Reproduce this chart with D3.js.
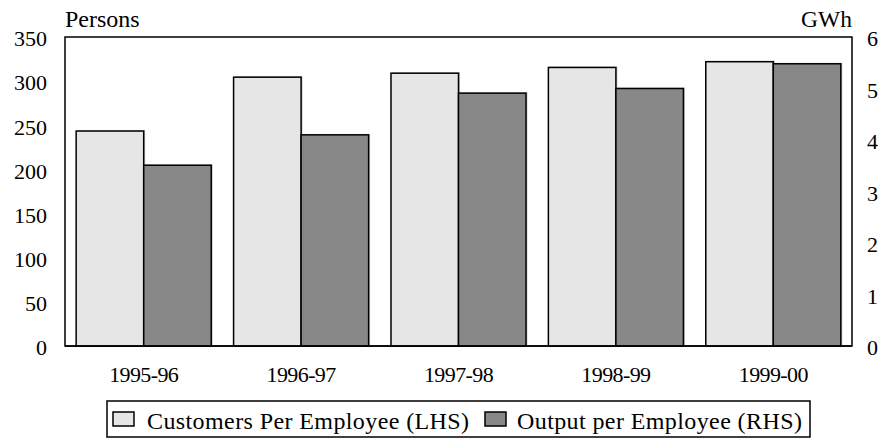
<!DOCTYPE html>
<html><head><meta charset="utf-8">
<script src="https://cdn.jsdelivr.net/npm/d3@7"></script>
<style>body{margin:0;background:#fff}svg{display:block;font-family:"Liberation Serif","Times New Roman",serif}</style>
</head><body>
<svg id="c" width="887" height="440"></svg>
<script>
const categories = ["1995-96","1996-97","1997-98","1998-99","1999-00"];
const customersPerEmployee = [243.5, 304.5, 309, 315.5, 322];
const outputPerEmployee = [3.51, 4.10, 4.91, 5.00, 5.48];
const leftTicks = [0,50,100,150,200,250,300,350];
const rightTicks = [0,1,2,3,4,5,6];
const seriesNames = ["Customers Per Employee (LHS)","Output per Employee (RHS)"];
const colors = ["#e6e6e6","#888888"];

const svg = d3.select("#c");
const m = {l:65, r:852, t:37, b:346};
const x = d3.scaleBand().domain(categories).range([m.l,m.r]).paddingInner(0.142).paddingOuter(0.071);
const xs = d3.scaleBand().domain([0,1]).range([0,x.bandwidth()]);
const yL = d3.scaleLinear().domain([0,350]).range([m.b,m.t]);
const yR = d3.scaleLinear().domain([0,6]).range([m.b,m.t]);
const FF = "Liberation Serif";

// frame
svg.append("rect").attr("x",m.l).attr("y",m.t).attr("width",m.r-m.l).attr("height",m.b-m.t)
  .attr("fill","none").attr("stroke","#000").attr("stroke-width",1.5);

// bars
const data = categories.map((c,i)=>({c, v:[customersPerEmployee[i], outputPerEmployee[i]]}));
const g = svg.append("g");
data.forEach(d=>{
  [0,1].forEach(s=>{
    const sc = s===0?yL:yR;
    const bx = x(d.c)+xs(s), by = sc(d.v[s]);
    g.append("rect").attr("x",bx+1.5).attr("y",by-1).attr("width",xs.bandwidth()).attr("height",m.b-by+1)
      .attr("fill","#999").attr("opacity",0.5);
    g.append("rect").attr("x",bx).attr("y",by).attr("width",xs.bandwidth()).attr("height",m.b-by)
      .attr("fill",colors[s]).attr("stroke","#000").attr("stroke-width",1.5);
  });
});
svg.append("line").attr("x1",m.l).attr("x2",m.r).attr("y1",m.b).attr("y2",m.b).attr("stroke","#000").attr("stroke-width",1.5);

// axes
const fs = 22;
const axL = d3.axisLeft(yL).tickValues(leftTicks).tickSize(0).tickPadding(18).tickFormat(d3.format("d"));
const gl = svg.append("g").attr("transform",`translate(${m.l},0)`).call(axL);
gl.attr("font-family",FF);
gl.select(".domain").remove();
gl.selectAll("text").attr("font-size",fs).attr("font-family",FF).attr("fill","#000").attr("dy","0.4em");

const axR = d3.axisRight(yR).tickValues(rightTicks).tickSize(0).tickPadding(15).tickFormat(d3.format("d"));
const gr = svg.append("g").attr("transform",`translate(${m.r},0)`).call(axR);
gr.attr("font-family",FF);
gr.select(".domain").remove();
gr.selectAll("text").attr("font-size",fs).attr("font-family",FF).attr("fill","#000").attr("dy","0.4em");

const axB = d3.axisBottom(x).tickSize(0).tickPadding(20);
const gb = svg.append("g").attr("transform",`translate(0,${m.b})`).call(axB);
gb.attr("font-family",FF);
gb.select(".domain").remove();
gb.selectAll("text").attr("font-size",22).attr("font-family",FF).attr("fill","#000").attr("dy","0.71em").attr("letter-spacing","-0.6");

// axis titles
svg.append("text").attr("x",m.l).attr("y",27).attr("font-size",24).attr("font-family",FF).text("Persons");
svg.append("text").attr("x",m.r).attr("y",27).attr("text-anchor","end").attr("font-size",23.5).attr("font-family",FF).text("GWh");

// legend
const lg = svg.append("g");
lg.append("rect").attr("x",107).attr("y",401).attr("width",703).attr("height",36)
  .attr("fill","#fff").attr("stroke","#000").attr("stroke-width",1.5);
const items = [{x:113, tx:147},{x:485, tx:517}];
items.forEach((it,i)=>{
  lg.append("rect").attr("x",it.x).attr("y",412).attr("width",21).attr("height",14)
    .attr("fill",colors[i]).attr("stroke","#000").attr("stroke-width",1.5);
  lg.append("text").attr("x",it.tx).attr("y",428.5).attr("font-size",24).attr("font-family",FF).attr("letter-spacing","0.4").text(seriesNames[i]);
});
</script>
</body></html>
